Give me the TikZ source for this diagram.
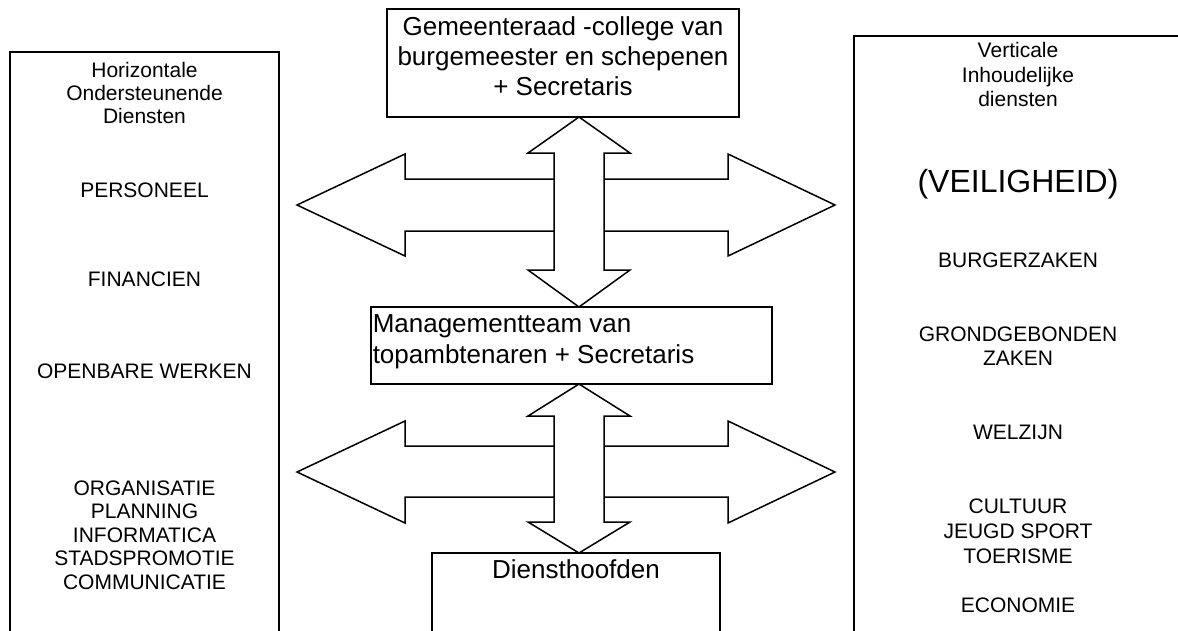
\documentclass[tikz,border=0pt]{standalone}
\usepackage{fontspec}
\setmainfont{Liberation Sans}
\begin{document}
\begin{tikzpicture}[x=1pt,y=-1pt,line width=1.5pt,
  box/.style={draw,rectangle,inner sep=0pt,outer sep=0pt},
  blockarrow/.style={draw,fill=white,line join=miter},
  big/.style={font=\fontsize{26}{30}\selectfont,anchor=base,inner sep=0pt},
  col/.style={font=\fontsize{21}{24}\selectfont,anchor=base,inner sep=0pt},
  huge/.style={font=\fontsize{32}{36}\selectfont,anchor=base,inner sep=0pt}]
\useasboundingbox (0,0) rectangle (1178,630);
\clip (0,0) rectangle (1178,630);
\fill[white] (0,0) rectangle (1178,630);

% boxes
\node[box,minimum width=352pt,minimum height=108pt] (gr) at (563,63) {};
\node[box,minimum width=401pt,minimum height=77pt] (mt) at (571.5,345.5) {};
\node[box,minimum width=288pt,minimum height=147pt] (dh) at (576,626.5) {};
\node[box,minimum width=269pt,minimum height=648pt] (lb) at (144.5,376) {};
\node[box,minimum width=346pt,minimum height=664pt] (rb) at (1027,368) {};

% top box text
\node[big] (gr1) at (563,35) {Gemeenteraad -college van};
\node[big] (gr2) at (563,65) {burgemeester en schepenen};
\node[big] (gr3) at (563,95) {+ Secretaris};
% middle box text
\node[big,anchor=base west] (mt1) at (372,332) {Managementteam van};
\node[big,anchor=base west] (mt2) at (372,363) {topambtenaren + Secretaris};
% bottom box text
\node[big] (dh1) at (576,578) {Diensthoofden};

% left column
\node[col] (l1) at (144.5,77) {Horizontale};
\node[col] (l2) at (144.5,100) {Ondersteunende};
\node[col] (l3) at (144.5,123) {Diensten};
\node[col] (l4) at (144.5,197) {PERSONEEL};
\node[col] (l5) at (144.5,286) {FINANCIEN};
\node[col] (l6) at (144.5,378) {OPENBARE WERKEN};
\node[col] (l7) at (144.5,495) {ORGANISATIE};
\node[col] (l8) at (144.5,518) {PLANNING};
\node[col] (l9) at (144.5,542) {INFORMATICA};
\node[col] (l10) at (144.5,565) {STADSPROMOTIE};
\node[col] (l11) at (144.5,589) {COMMUNICATIE};

% right column
\node[col] (r1) at (1018,57) {Verticale};
\node[col] (r2) at (1018,82) {Inhoudelijke};
\node[col] (r3) at (1018,106) {diensten};
\node[huge] (r4) at (1018,192) {(VEILIGHEID)};
\node[col] (r5) at (1018,267) {BURGERZAKEN};
\node[col] (r6) at (1018,341) {GRONDGEBONDEN};
\node[col] (r7) at (1018,365) {ZAKEN};
\node[col] (r8) at (1018,439) {WELZIJN};
\node[col] (r9) at (1018,513) {CULTUUR};
\node[col] (r10) at (1018,538) {JEUGD SPORT};
\node[col] (r11) at (1018,563) {TOERISME};
\node[col] (r12) at (1018,612) {ECONOMIE};

% arrow axis
\coordinate (ax) at (579,0);
\coordinate (v1a) at (gr.south -| ax);
\coordinate (v1b) at (mt.north -| ax);
\coordinate (v2a) at (mt.south -| ax);
\coordinate (v2b) at (dh.north -| ax);

% upper horizontal double arrow
\draw[blockarrow] (297,205) -- (405,154) -- (405,179) -- (728,179) -- (728,154)
  -- (835,205) -- (728,256) -- (728,231) -- (405,231) -- (405,256) -- cycle;
% upper vertical double arrow
\draw[blockarrow] (v1a) -- ++(51,36) -- ++(-26,0) |- ([xshift=25pt,yshift=37pt]v1b)
  -- ++(26,0) -- (v1b) -- ++(-51,-37) -- ++(26,0) |- ([xshift=-25pt,yshift=-36pt]v1a)
  -- ++(-26,0) -- cycle;

% lower horizontal double arrow
\draw[blockarrow] (297,472) -- (405,421) -- (405,446) -- (728,446) -- (728,421)
  -- (835,472) -- (728,523) -- (728,497) -- (405,497) -- (405,523) -- cycle;
% lower vertical double arrow
\draw[blockarrow] (v2a) -- ++(51,32) -- ++(-26,0) |- ([xshift=25pt,yshift=31pt]v2b)
  -- ++(26,0) -- (v2b) -- ++(-51,-31) -- ++(26,0) |- ([xshift=-25pt,yshift=-32pt]v2a)
  -- ++(-26,0) -- cycle;
\end{tikzpicture}
\end{document}
